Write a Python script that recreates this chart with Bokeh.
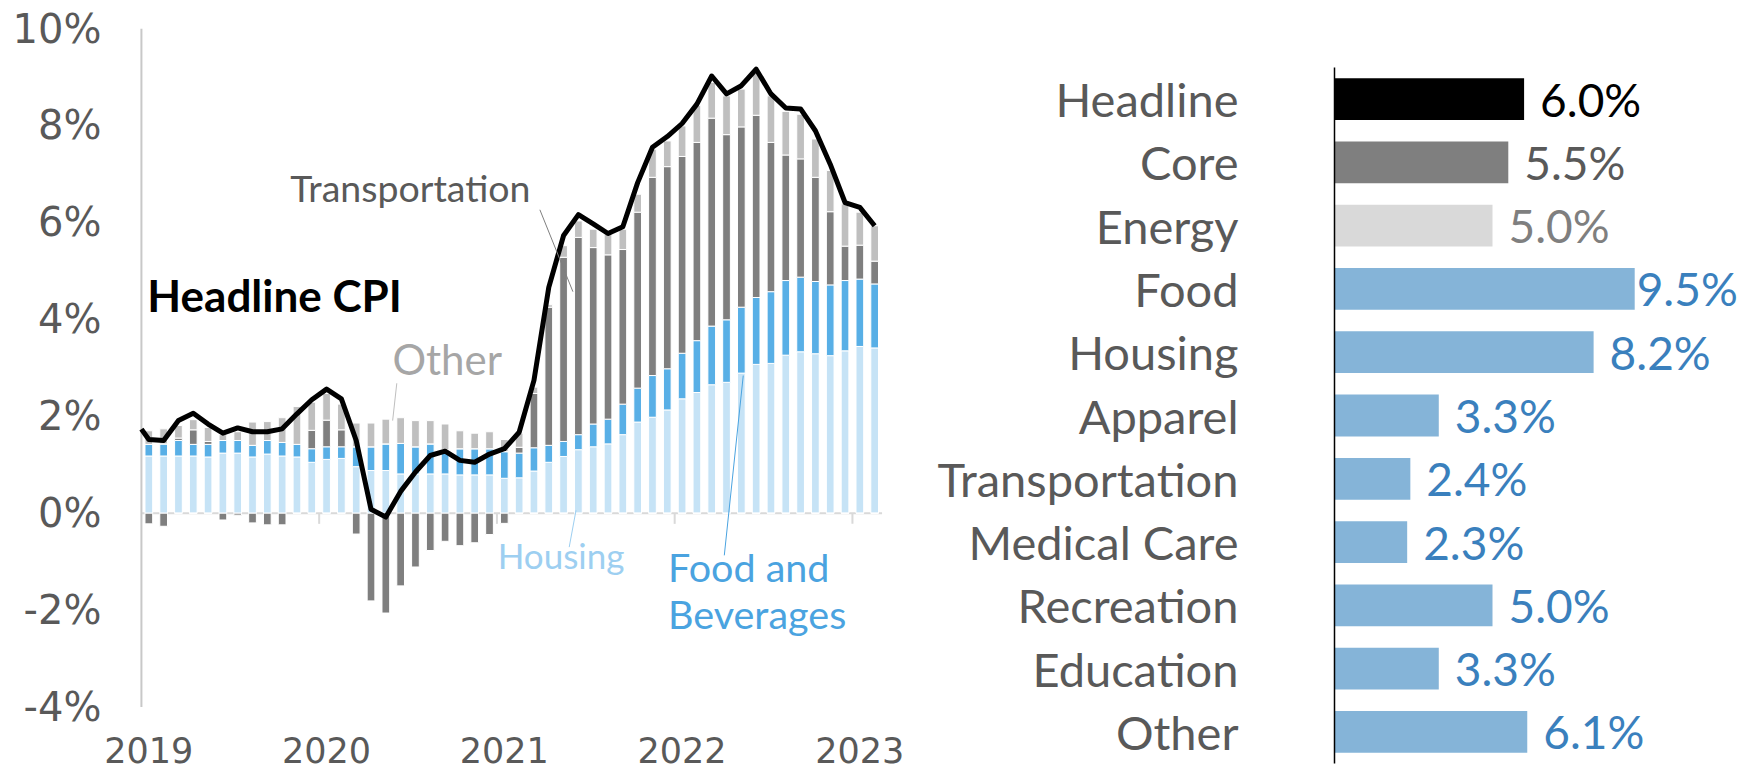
import pandas as pd
from bokeh.plotting import figure
from bokeh.layouts import row
from bokeh.models import (Range1d, FixedTicker, Label, ColumnDataSource,
                          FactorRange, LabelSet)
from bokeh.embed import file_html
from bokeh.resources import INLINE
from bokeh.core.properties import value

# ---------------- data: contributions to headline CPI (pp), Jan 2019 - Feb 2023
months = [d.strftime("%Y-%m") for d in pd.date_range("2019-01-01", "2023-02-01", freq="MS")]
housing = [1.18, 1.18, 1.18, 1.18, 1.16, 1.24, 1.24, 1.16, 1.22, 1.18, 1.16, 1.05,
           1.11, 1.13, 0.96, 0.88, 0.88, 0.81, 0.81, 0.81, 0.81, 0.79, 0.79, 0.79,
           0.72, 0.73, 0.87, 1.05, 1.17, 1.31, 1.37, 1.43, 1.62, 1.88, 1.98, 2.13,
           2.36, 2.49, 2.65, 2.70, 2.89, 3.07, 3.09, 3.26, 3.33, 3.29, 3.25, 3.35,
           3.44, 3.41]
food = [0.24, 0.25, 0.32, 0.24, 0.26, 0.26, 0.26, 0.24, 0.28, 0.28, 0.26, 0.28,
        0.26, 0.24, 0.41, 0.49, 0.55, 0.63, 0.56, 0.62, 0.50, 0.54, 0.54, 0.54,
        0.55, 0.51, 0.48, 0.35, 0.31, 0.31, 0.47, 0.51, 0.63, 0.70, 0.86, 0.85,
        0.94, 1.07, 1.21, 1.29, 1.36, 1.38, 1.48, 1.54, 1.54, 1.49, 1.46, 1.45,
        1.39, 1.32]
transportation = [-0.22, -0.27, 0.05, 0.30, 0.06, -0.14, -0.04, -0.20, -0.24, -0.24, 0.00, 0.38,
                  0.55, 0.35, -0.43, -1.81, -2.06, -1.50, -1.11, -0.77, -0.58, -0.67, -0.61, -0.44,
                  -0.21, 0.12, 1.12, 2.85, 3.80, 4.07, 3.64, 3.39, 3.19, 3.63, 4.09, 4.17,
                  4.06, 4.09, 4.29, 3.82, 3.72, 3.76, 3.08, 2.59, 2.44, 2.15, 1.51, 0.71,
                  0.70, 0.47]
other = [0.28, 0.31, 0.26, 0.21, 0.29, 0.12, 0.18, 0.48, 0.39, 0.51, 0.78, 0.58,
         0.55, 0.53, 0.49, 0.49, 0.51, 0.53, 0.54, 0.48, 0.53, 0.37, 0.32, 0.35,
         0.25, 0.29, 0.13, 0.05, 0.24, 0.34, 0.38, 0.43, 0.42, 0.37, 0.58, 0.53,
         0.63, 0.76, 0.74, 0.80, 0.78, 0.86, 0.96, 0.90, 0.92, 0.79, 0.85, 0.87,
         0.68, 0.73]
# headline CPI, Dec 2018 - Feb 2023 (the line is cut at the value axis)
headline = [1.95,
            1.52, 1.50, 1.91, 2.06, 1.84, 1.65, 1.76, 1.68, 1.68, 1.74, 2.05, 2.34,
            2.56, 2.36, 1.50, 0.08, -0.08, 0.45, 0.85, 1.19, 1.28, 1.09, 1.05, 1.22,
            1.33, 1.67, 2.74, 4.66, 5.73, 6.16, 5.97, 5.77, 5.91, 6.82, 7.55, 7.77,
            8.04, 8.44, 9.02, 8.65, 8.82, 9.16, 8.65, 8.36, 8.34, 7.89, 7.20, 6.41,
            6.31, 5.93]
y_ticks = [-4, -2, 0, 2, 4, 6, 8, 10]

# ---------------- data: latest 12-month change by component
categories = ["Headline", "Core", "Energy", "Food", "Housing", "Apparel",
              "Transportation", "Medical Care", "Recreation", "Education", "Other"]
yoy = [6.0, 5.5, 5.0, 9.5, 8.2, 3.3, 2.4, 2.3, 5.0, 3.3, 6.1]

# ---------------- styles
FONT = "Lato"
NUMFONT = "DejaVu Sans"
C_HOUS = "#c6e3f6"
C_FOOD = "#58afe6"
C_TRAN = "#7f7f7f"
C_OTH = "#bfbfbf"
GREY_TXT = "#595959"

# ---------------- left chart
n = len(months)
idx = list(range(n))
tpos = [max(t, 0.0) for t in transportation]
tneg = [min(t, 0.0) for t in transportation]
h_top = housing
f_top = [a + b for a, b in zip(h_top, food)]
t_top = [a + b for a, b in zip(f_top, tpos)]
o_top = [a + b for a, b in zip(t_top, other)]
src = ColumnDataSource(dict(x=idx, h_top=h_top, f_top=f_top, t_top=t_top,
                            o_top=o_top, tneg=tneg, zero=[0.0] * n))

Y_MIN, Y_MAX = y_ticks[0], y_ticks[-1]
X0, X1 = -0.5, n - 0.5          # extent of the month axis
p = figure(width=920, height=772, output_backend="svg", toolbar_location=None,
           x_range=Range1d(-3.6, 51.42), y_range=Range1d(-5.35, Y_MAX),
           min_border_left=95, min_border_right=10, min_border_top=28,
           min_border_bottom=0)
p.frame_align = False
p.outline_line_color = None
p.xgrid.visible = False
p.ygrid.visible = False
p.background_fill_color = "white"
p.border_fill_color = "white"
p.xaxis.visible = False

# zero line and value-axis line
p.segment(x0=[X0], x1=[X1], y0=[0], y1=[0], line_color="#d9d9d9", line_width=2,
          level="underlay")
p.segment(x0=[X0], x1=[X0], y0=[Y_MIN], y1=[Y_MAX], line_color="#c8c8c8",
          line_width=2)

bw = 0.52
p.vbar(x="x", bottom="zero", top="h_top", width=bw, source=src,
       fill_color=C_HOUS, line_color="white", line_width=1)
p.vbar(x="x", bottom="h_top", top="f_top", width=bw, source=src,
       fill_color=C_FOOD, line_color="white", line_width=1)
p.vbar(x="x", bottom="f_top", top="t_top", width=bw, source=src,
       fill_color=C_TRAN, line_color="white", line_width=1)
p.vbar(x="x", bottom="t_top", top="o_top", width=bw, source=src,
       fill_color=C_OTH, line_color="white", line_width=1)
p.vbar(x="x", bottom="tneg", top="zero", width=bw, source=src,
       fill_color=C_TRAN, line_color="white", line_width=1)

# year boundary ticks on the zero line
jan_idx = [i for i, m in enumerate(months) if m.endswith("-01")]
bounds = [i - 0.5 for i in jan_idx[1:]]
p.segment(x0=bounds, x1=bounds, y0=[0] * len(bounds), y1=[-0.22] * len(bounds),
          line_color="#d9d9d9", line_width=2)

# headline line, cut where it meets the value axis (midway Dec 2018 - Jan 2019)
line_x = [X0] + idx
line_y = [(headline[0] + headline[1]) / 2] + headline[1:]
p.line(x=line_x, y=line_y, line_color="black", line_width=5, line_join="round")

# year labels under the plot
ysrc = ColumnDataSource(dict(x=jan_idx, y=[-4.88] * len(jan_idx),
                             t=[months[i][:4] for i in jan_idx]))
p.text(x="x", y="y", text="t", source=ysrc, text_font=value(NUMFONT),
       text_font_size="35px", text_color=GREY_TXT, text_align="center",
       text_baseline="middle")

# value axis labels
p.yaxis.ticker = FixedTicker(ticks=y_ticks)
p.yaxis.major_label_overrides = {t: f"{t}%" for t in y_ticks}
p.yaxis.major_label_text_font = NUMFONT
p.yaxis.major_label_text_font_size = "40px"
p.yaxis.major_label_text_color = GREY_TXT
p.yaxis.major_label_standoff = -12
p.yaxis.axis_line_color = None
p.yaxis.major_tick_line_color = None
p.yaxis.minor_tick_line_color = None

# annotations
def lab(x, y, text, color, size, bold=False):
    p.add_layout(Label(x=x, y=y, text=text, text_color=color,
                       text_font=FONT, text_font_size=size,
                       text_font_style="bold" if bold else "normal",
                       text_baseline="alphabetic", text_align="left"))

lab(-0.1, 4.50, "Headline CPI", "black", "44px", bold=True)
lab(9.55, 6.71, "Transportation", GREY_TXT, "37.5px")
lab(16.45, 3.18, "Other", "#a6a6a6", "42px")
lab(23.55, -0.86, "Housing", "#9dcff1", "35px")
lab(35.05, -1.11, "Food and", "#4aa3e0", "39.5px")
lab(35.05, -2.06, "Beverages", "#4aa3e0", "39.5px")

p.segment(x0=[26.4], y0=[6.26], x1=[28.63], y1=[4.57], line_color="#7f7f7f", line_width=1)
p.segment(x0=[16.74], y0=[2.68], x1=[16.46], y1=[1.91], line_color="#bfbfbf", line_width=1)
p.segment(x0=[28.38], y0=[-0.70], x1=[28.84], y1=[0.06], line_color="#9dcff1", line_width=1)
p.segment(x0=[38.85], y0=[-0.87], x1=[40.13], y1=[2.84], line_color="#4aa3e0", line_width=1)

# ---------------- right chart
bar_colors = ["#000000", "#7f7f7f", "#d9d9d9"] + ["#85b4d8"] * (len(categories) - 3)
lab_colors = ["#000000", GREY_TXT, "#7f7f7f"] + ["#3a80bd"] * (len(categories) - 3)
offsets = [16, 16, 16, 2, 16, 16, 16, 16, 16, 16, 16]
rsrc = ColumnDataSource(dict(cat=categories, v=yoy, color=bar_colors, lc=lab_colors,
                             txt=[f"{v:.1f}%" for v in yoy], off=offsets))

q = figure(width=822, height=772, output_backend="svg", toolbar_location=None,
           y_range=FactorRange(factors=list(reversed(categories))),
           x_range=Range1d(0, 408 / 31.6),
           min_border_left=414, min_border_right=0, min_border_top=67,
           min_border_bottom=9)
q.frame_align = False
q.outline_line_color = None
q.xgrid.visible = False
q.ygrid.visible = False
q.xaxis.visible = False
q.hbar(y="cat", left=0, right="v", height=0.66, fill_color="color",
       line_color=None, source=rsrc)
q.add_layout(LabelSet(x="v", y="cat", text="txt", x_offset="off", source=rsrc,
                      text_color="lc", text_font=value(FONT),
                      text_font_size="46px", text_baseline="middle",
                      text_align="left"))
q.yaxis.major_label_text_font = FONT
q.yaxis.major_label_text_font_size = "47px"
q.yaxis.major_label_text_color = GREY_TXT
q.yaxis.major_label_standoff = 90
q.yaxis.axis_line_color = "black"
q.yaxis.axis_line_width = 1.5
q.yaxis.major_tick_line_color = None
q.yaxis.minor_tick_line_color = None

layout = row(p, q)
open("out.html", "w").write(file_html(layout, INLINE))
